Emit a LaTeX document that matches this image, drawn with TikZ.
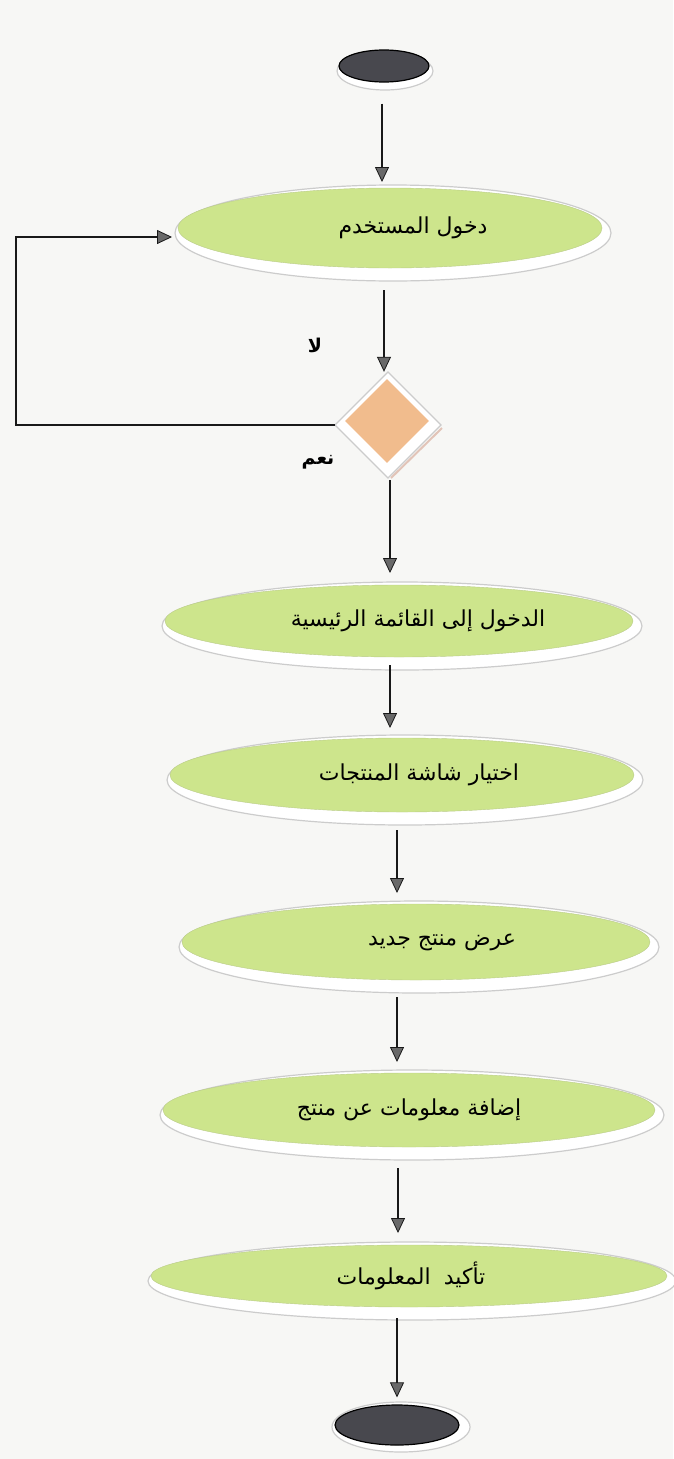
\documentclass[tikz,border=0pt]{standalone}
\usepackage{fontspec}
\usetikzlibrary{arrows.meta,shapes.geometric}
\TeXXeTstate=1
\newfontfamily\arabicfont[Script=Arabic]{DejaVu Sans}

\definecolor{paper}{RGB}{247,247,245}
\definecolor{actgreen}{RGB}{205,229,140}
\definecolor{decorange}{RGB}{241,188,141}
\definecolor{termgray}{RGB}{72,72,78}
\definecolor{linedark}{RGB}{25,25,25}
\definecolor{tipgray}{RGB}{105,105,105}
\definecolor{pinkedge}{RGB}{226,196,184}

\tikzset{
  act/.style={ellipse, fill=actgreen, draw=actgreen!75!gray, line width=0.4pt,
    inner sep=0pt, outer sep=0pt, font=\arabicfont\fontsize{22}{26}\selectfont},
  rim/.style={fill=white, draw=gray!40, line width=1.2pt},
  term/.style={ellipse, fill=termgray, draw=black, line width=1.2pt, inner sep=0pt},
  decision/.style={diamond, aspect=1, fill=decorange, inner sep=0pt,
    minimum width=84pt, minimum height=84pt},
  flow/.style={draw=linedark, line width=2.2pt,
    -{Triangle[length=15pt,width=14pt,line width=0.8pt,fill=tipgray]}},
  branch/.style={font=\arabicfont\bfseries\fontsize{19}{22}\selectfont},
}

% activity: name, x, y, x radius, y radius, text offset, text
\newcommand\actbox[7]{%
  \draw[rim] (#2+3,#3+5) ellipse [x radius={(#4+6)*1pt}, y radius={(#5+8)*1pt}];
  \node[act, minimum width={(2*#4)*1pt}, minimum height={(2*#5)*1pt}] (#1) at (#2,#3)
    {\hspace*{#6pt}#7};
}

\begin{document}
\begin{tikzpicture}[x=1pt,y=-1pt]
\fill[paper] (0,0) rectangle (673,1459);
\useasboundingbox (0,0) rectangle (673,1459);

% start
\draw[rim] (385,71) ellipse [x radius=48pt, y radius=19pt];
\node[term, minimum width=90pt, minimum height=32pt] (start) at (384,66) {};

% activities
\actbox{login}{390}{228}{212}{40}{46}{\beginR دخول المستخدم\endR}
\actbox{menu}{399}{621}{234}{36}{38}{\beginR الدخول إلى القائمة الرئيسية\endR}
\actbox{products}{402}{775}{232}{37}{34}{\beginR اختيار شاشة المنتجات\endR}
\actbox{newprod}{416}{942}{234}{38}{52}{\beginR عرض منتج جديد\endR}
\actbox{addinfo}{409}{1110}{246}{37}{0}{\beginR إضافة معلومات عن منتج\endR}
\actbox{confirm}{409}{1276}{258}{31}{4}{\beginR تأكيد\hspace{0.6em}المعلومات\endR}

% decision
\draw[rim] (388,372) -- (441,425) -- (388,478) -- (335,425) -- cycle;
\draw[pinkedge, line width=2pt] (442,428) -- (391,478);
\node[decision] (check) at (387,421) {};

% end
\draw[rim] (401,1427) ellipse [x radius=69pt, y radius=25pt];
\node[term, minimum width=124pt, minimum height=40pt] (end) at (397,1425) {};

% branch labels
\node[branch] (no) at (315,345) {\beginR لا\endR};
\node[branch] (yes) at (318,462) {\beginR نعم\endR};

% flow
\draw[flow, shorten <=21pt, shorten >=6pt] ([xshift=-2pt]start.south) -- ([xshift=-8pt]login.north);
\draw[flow, shorten <=22pt, shorten >=7pt] ([xshift=-6pt]login.south) -- ([xshift=-3pt]check.north);
\draw[flow, shorten <=17pt, shorten >=12pt] ([xshift=3pt]check.south) -- ([xshift=-9pt]menu.north);
\draw[flow, shorten <=8pt, shorten >=10pt] ([xshift=-9pt]menu.south) -- ([xshift=-12pt]products.north);
\draw[flow, shorten <=18pt, shorten >=11pt] ([xshift=-5pt]products.south) -- ([xshift=-19pt]newprod.north);
\draw[flow, shorten <=17pt, shorten >=11pt] ([xshift=-19pt]newprod.south) -- ([xshift=-12pt]addinfo.north);
\draw[flow, shorten <=21pt, shorten >=12pt] ([xshift=-11pt]addinfo.south) -- ([xshift=-11pt]confirm.north);
\draw[flow, shorten <=11pt, shorten >=7pt] ([xshift=-12pt]confirm.south) -- (end.north);

% "no" branch back to the login step
\draw[flow, shorten >=6pt] ([xshift=-10pt,yshift=-4pt]check.west) -- ++(-319,0) |- ([yshift=-9pt]login.west);
\end{tikzpicture}
\end{document}
